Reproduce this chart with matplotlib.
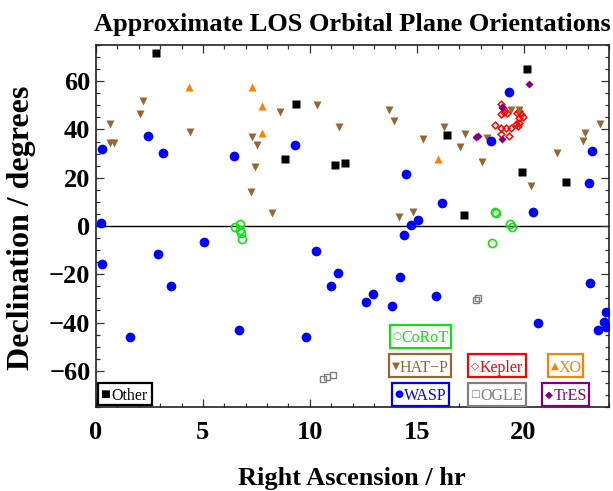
import matplotlib
matplotlib.use("Agg")
import matplotlib.pyplot as plt
from matplotlib.patches import Rectangle
from matplotlib.ticker import MultipleLocator

# Right ascension (hr) and declination (deg) of transiting-planet hosts by survey
corot_ra = [6.51, 6.73, 6.76, 6.79, 6.85, 18.66, 18.70, 19.39, 19.44, 18.53]
corot_dec = [-0.3, 0.8, -1.7, -3.0, -5.5, 6.0, 5.4, 0.8, -0.3, -6.9]

kepler_ra = [18.95, 19.11, 18.93, 19.24, 18.68, 18.96, 19.19, 19.42, 19.31, 18.96,
             19.66, 19.81, 19.78, 19.89, 19.97, 19.69, 19.75, 19.81, 19.02]
kepler_dec = [50.4, 47.2, 46.3, 47.0, 42.0, 40.7, 40.7, 40.7, 37.2, 38.3,
              42.1, 42.8, 44.9, 46.3, 45.3, 47.0, 41.4, 47.6, 49.0]

hatp_ra = [0.65, 0.65, 0.86, 2.20, 2.06, 4.41, 7.32, 7.52, 7.45, 7.24, 8.24, 8.61,
           10.34, 11.39, 13.71, 13.93, 16.28, 15.28, 17.27, 17.04, 18.05, 18.27,
           21.57, 22.88, 22.79, 23.58, 20.36, 19.41, 19.81, 14.17, 14.81]
hatp_dec = [42.1, 34.4, 34.4, 51.8, 46.3, 39.0, 37.0, 33.5, 24.3, 13.9, 5.5, 47.2,
            50.0, 41.0, 48.1, 43.5, 41.1, 36.1, 38.1, 32.6, 26.4, 36.3,
            30.1, 38.6, 35.1, 42.1, 16.4, 48.1, 48.1, 3.9, 5.6]

xo_ra = [4.35, 7.32, 7.76, 7.76, 15.98]
xo_dec = [57.4, 57.8, 49.7, 38.6, 27.8]

wasp_ra = [0.30, 2.43, 3.13, 6.45, 9.30, 19.33, 18.50, 14.49, 23.19, 23.08, 16.20,
           20.45, 15.08, 14.72, 14.42, 11.30, 14.24, 12.65, 12.96, 13.85, 15.92,
           20.67, 23.13, 0.22, 0.28, 1.59, 2.88, 3.49, 5.03, 6.70, 9.84, 10.28,
           10.98, 23.86, 23.75, 23.47, 23.86]
wasp_dec = [31.7, 37.1, 30.4, 29.2, 33.7, 55.6, 35.3, 21.7, 31.1, 17.8, 9.6,
            6.0, 2.3, 0.4, -3.75, -19.6, -21.0, -31.3, -28.1, -33.1, -28.9,
            -40.1, -23.5, 1.1, -15.8, -46.1, -11.4, -24.7, -6.7, -43.3, -46.1, -10.4,
            -24.7, -35.7, -39.9, -42.9, -42.0]

ogle_ra = [10.62, 10.81, 11.09, 17.76, 17.85]
ogle_dec = [-63.5, -62.5, -61.8, -30.6, -30.0]

tres_ra = [17.80, 17.85, 19.00, 19.00, 20.28]
tres_dec = [37.0, 37.3, 36.1, 49.4, 59.0]

other_ra = [2.80, 9.35, 8.85, 11.20, 11.64, 16.43, 20.17, 19.92, 21.98, 17.20]
other_dec = [71.5, 50.4, 27.8, 25.3, 26.1, 37.9, 65.0, 22.4, 18.2, 4.4]

GREEN = "#12e012"
BROWN = (0.6, 0.4, 0.2)
ORANGE = (1.0, 0.5, 0.0)
PURPLE = (0.5, 0.0, 0.5)
GREY = (0.5, 0.5, 0.5)

SERIF = ["Liberation Serif", "DejaVu Serif"]
plt.rcParams["font.family"] = SERIF

W, H = 613, 491
AX_L, AX_T, AX_R, AX_B = 96, 45, 609, 407  # axes frame in pixels

fig = plt.figure(figsize=(W / 100, H / 100), dpi=100)
ax = fig.add_axes([AX_L / W, 1 - AX_B / H, (AX_R - AX_L) / W, (AX_B - AX_T) / H])

ax.axhline(0, color="black", lw=1.0, zorder=1)

ax.plot(corot_ra, corot_dec, "o", ms=5.8, mfc="none", mec=GREEN, mew=1.2, zorder=3)
ax.plot(kepler_ra, kepler_dec, "D", ms=3.4, mfc="none", mec="red", mew=1.1, zorder=3)
ax.plot(hatp_ra, hatp_dec, "v", ms=6.2, color=BROWN, mec="none", zorder=4)
ax.plot(xo_ra, xo_dec, "^", ms=6.2, color=ORANGE, mec="none", zorder=4)
ax.plot(wasp_ra, wasp_dec, "o", ms=7.0, color="blue", mec="none", zorder=4)
ax.plot(ogle_ra, ogle_dec, "s", ms=4.4, mfc="none", mec=GREY, mew=1.0, zorder=4)
ax.plot(tres_ra, tres_dec, "D", ms=4.2, color=PURPLE, mec="none", zorder=5)
ax.plot(other_ra, other_dec, "s", ms=5.6, color="black", mec="none", zorder=5)

ax.set_xlim(0, 24)
ax.set_ylim(-75, 75)
ax.xaxis.set_major_locator(MultipleLocator(5))
ax.xaxis.set_minor_locator(MultipleLocator(1))
ax.yaxis.set_major_locator(MultipleLocator(20))
ax.yaxis.set_minor_locator(MultipleLocator(5))
ax.tick_params(which="both", direction="in", top=True, right=True, width=0.9,
               color="#333333")
ax.tick_params(which="major", length=5.5)
ax.tick_params(which="minor", length=3)
ax.tick_params(axis="x", which="major", pad=10)
ax.tick_params(axis="y", which="major", pad=4)
for lab in ax.get_xticklabels() + ax.get_yticklabels():
    lab.set_fontsize(19)
    lab.set_fontweight("bold")
for sp in ax.spines.values():
    sp.set_linewidth(1.2)
    sp.set_color("#222222")

fig.text(352 / W, 1 - 31 / H, "Approximate LOS Orbital Plane Orientations",
         ha="center", va="baseline", fontsize=19, fontweight="bold")
fig.text(352 / W, 1 - 485 / H, "Right Ascension / hr",
         ha="center", va="baseline", fontsize=19, fontweight="bold")
fig.text(22 / W, 1 - 228 / H, "Declination / degrees", rotation=90,
         ha="center", va="center", fontsize=23, fontweight="bold")

# framed survey labels inside the plot: (symbol, name, colour, box px left, top, right, bottom)
labels = [
    ("\u25cb", "CoRoT", GREEN, 390, 325, 451, 348),
    ("\u25bc", "HAT\u2212P", BROWN, 389, 354, 451, 377),
    ("\u25c7", "Kepler", "red", 468, 354, 526, 377),
    ("\u25b2", "XO", ORANGE, 548, 354, 583, 377),
    ("\u25cf", "WASP", "blue", 392, 383, 449, 406),
    ("\u25a1", "OGLE", GREY, 468, 383, 526, 406),
    ("\u25c6", "TrES", PURPLE, 542, 383, 589, 406),
    ("\u25a0", "Other", "black", 98, 383, 152, 405),
]


def ax_frac(px, py):
    return (px - AX_L) / (AX_R - AX_L), (AX_B - py) / (AX_B - AX_T)


for sym, name, col, l, t, r, b in labels:
    x0, y0 = ax_frac(l, b)
    x1, y1 = ax_frac(r, t)
    ax.add_patch(Rectangle((x0, y0), x1 - x0, y1 - y0, transform=ax.transAxes,
                           fc="white", ec=col, lw=1.6, zorder=6, clip_on=False))
    ym = (y0 + y1) / 2
    sx, _ = ax_frac(l + 6.5, 0)
    ax.text(sx, ym, sym, transform=ax.transAxes, ha="center", va="center",
            fontsize=7.5, color=col, family="DejaVu Sans", zorder=7)
    nx0, _ = ax_frac(l + 11.5, 0)
    nx1, _ = ax_frac(r - 2.5, 0)
    ax.text((nx0 + nx1) / 2, ym, name, transform=ax.transAxes, ha="center",
            va="center_baseline", fontsize=11.5, color=col, zorder=7)

fig.savefig("out.png", dpi=100)
